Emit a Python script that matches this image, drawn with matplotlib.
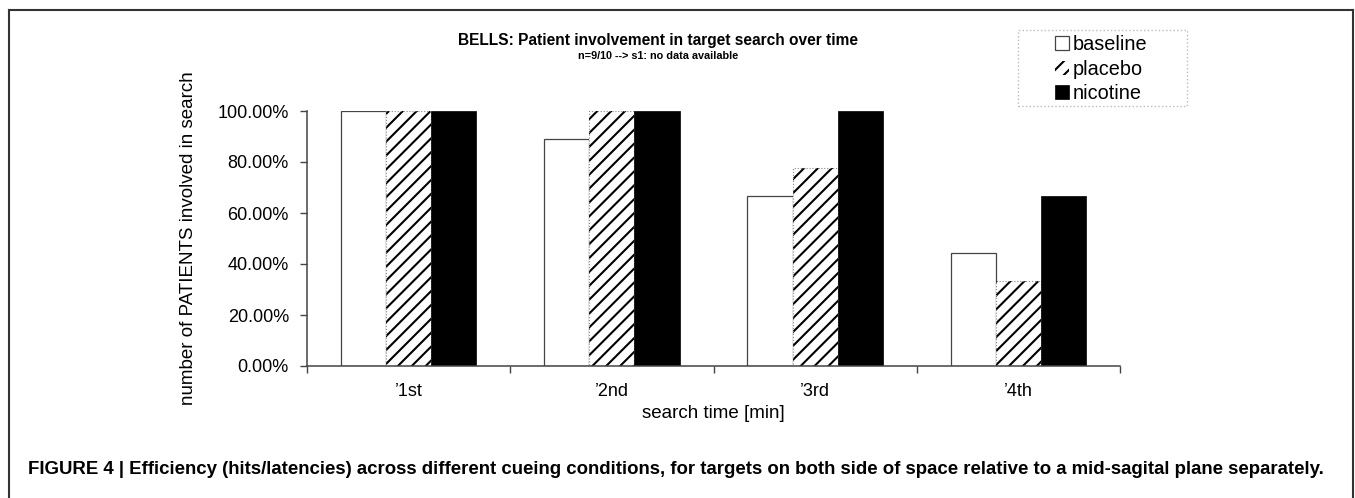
import matplotlib
matplotlib.use("Agg")
import matplotlib.pyplot as plt
from matplotlib.lines import Line2D
from matplotlib.patches import Rectangle
from matplotlib.ticker import FuncFormatter
import numpy as np

categories = ["\u20191st", "\u20192nd", "\u20193rd", "\u20194th"]
series_names = ["baseline", "placebo", "nicotine"]
baseline = [1.0, 0.889, 0.667, 0.444]
placebo = [1.0, 1.0, 0.778, 0.333]
nicotine = [1.0, 1.0, 1.0, 0.667]

DPI = 125
k = 100.0 / DPI  # sizes below are written as if at 100 dpi

plt.rcParams['font.family'] = ['Liberation Sans', 'DejaVu Sans']
plt.rcParams['hatch.linewidth'] = 1.5 * k

W, H = 1355, 498
fig = plt.figure(figsize=(W / DPI, H / DPI), dpi=DPI)
ax = fig.add_axes([307/W, 1-366/H, (1120-307)/W, (366-111)/H])

x = np.arange(len(categories))
w = 0.222
ax.bar(x - w, baseline, w, facecolor='white', edgecolor='#444444', linewidth=0.9*k, label=series_names[0])
ax.bar(x, placebo, w, facecolor='white', edgecolor='black', hatch='///', linewidth=0, label=series_names[1])
ax.bar(x, placebo, w, facecolor='none', edgecolor='#888888', linewidth=0.8*k, linestyle=':')
ax.bar(x + w, nicotine, w, facecolor='black', edgecolor='black', linewidth=0.5*k, label=series_names[2])

ax.set_xlim(-0.5, len(categories) - 0.5)
ax.set_ylim(0, 1.0)
ax.set_yticks(np.arange(0, 1.01, 0.2))
ax.yaxis.set_major_formatter(FuncFormatter(lambda v, p: f"{v*100:.2f}%"))
ax.set_xticks(x)
ax.set_xticklabels(categories)
ax.set_xticks(np.arange(-0.5, len(categories), 1.0), minor=True)
ax.tick_params(axis='x', which='major', length=0, pad=12*k, labelsize=13*k)
ax.tick_params(axis='x', which='minor', length=5*k, width=1*k, color='#444444', direction='out')
ax.tick_params(axis='y', length=5*k, width=1*k, color='#444444', labelsize=13*k, pad=8*k)
for s in ['top', 'right']:
    ax.spines[s].set_visible(False)
for s in ['left', 'bottom']:
    ax.spines[s].set_color('#444444')
    ax.spines[s].set_linewidth(1.1*k)

ax.set_ylabel("number of PATIENTS involved in search", fontsize=13.5*k, labelpad=15*k)
ax.set_xlabel("search time [min]", fontsize=13.5*k, labelpad=4*k)

fig.text(658/W, 1-40/H, "BELLS: Patient involvement in target search over time",
         ha='center', va='center', fontsize=11.2*k, fontweight='bold')
fig.text(658/W, 1-56/H, "n=9/10 --> s1: no data available",
         ha='center', va='center', fontsize=7.8*k, fontweight='bold')

# legend frame
fig.add_artist(Rectangle((1018/W, 1-106/H), (1187-1018)/W, (106-30)/H,
                         transform=fig.transFigure, facecolor='none',
                         edgecolor='#bbbbbb', linestyle=':', linewidth=1.0*k, zorder=1))
leg = ax.legend(loc='upper left', bbox_to_anchor=(1055/W, 1-35/H),
                bbox_transform=fig.transFigure, fontsize=14.3*k, frameon=False,
                handlelength=0.7, handleheight=0.7,
                handletextpad=0.2, labelspacing=0.28, borderpad=0.0,
                borderaxespad=0)

fig.text(28/W, 1-470/H,
         "FIGURE 4 | Efficiency (hits/latencies) across different cueing conditions, for targets on both side of space relative to a mid-sagital plane separately.",
         ha='left', va='center', fontsize=13.4*k, fontweight='bold')

fr = dict(color='#333333', linewidth=1.5*k, transform=fig.transFigure)
fig.add_artist(Line2D([9/W, 1353/W], [1-10/H, 1-10/H], **fr))
fig.add_artist(Line2D([9/W, 9/W], [1-10/H, 0], **fr))
fig.add_artist(Line2D([1353/W, 1353/W], [1-10/H, 0], **fr))

fig.savefig("out.png", dpi=DPI)
